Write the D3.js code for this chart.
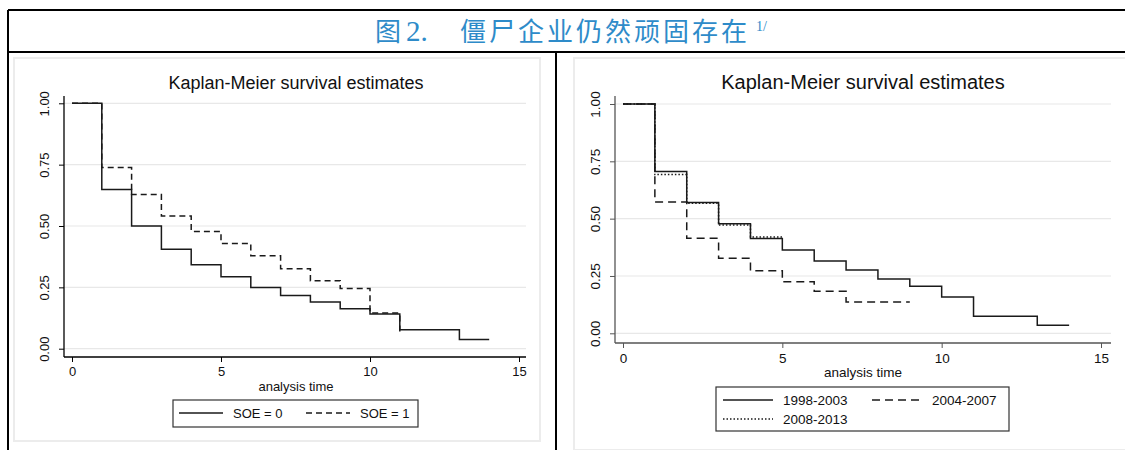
<!DOCTYPE html>
<html lang="zh">
<head>
    <meta charset="UTF-8">
    <title>Zombie firms</title>
    <script src="https://d3js.org/d3.v7.min.js"></script>
    <style>
        body { margin: 0; background: #fff; }
        svg text { font-family: 'Liberation Sans', Arial, sans-serif; fill: #111; }
    </style>
</head>
<body>
<div id="chart"></div>
<script>
    // time points (years) and survival estimates
    const timeLeft = [0, 1, 2, 3, 4, 5, 6, 7, 8, 9, 10, 11, 13, 14];
    const soe0 = [1, 0.649, 0.50, 0.405, 0.342, 0.293, 0.249, 0.217, 0.190, 0.163, 0.141, 0.077, 0.038, 0.038];
    const timeSoe1 = [0, 1, 2, 3, 4, 5, 6, 7, 8, 9, 10, 11];
    const soe1 = [1, 0.738, 0.628, 0.541, 0.478, 0.429, 0.379, 0.326, 0.277, 0.245, 0.145, 0.054];

    const time9803 = [0, 1, 2, 3, 4, 5, 6, 7, 8, 9, 10, 11, 13, 14];
    const p9803 = [1, 0.706, 0.570, 0.478, 0.413, 0.363, 0.315, 0.276, 0.237, 0.205, 0.158, 0.074, 0.035, 0.035];
    const time0407 = [0, 1, 2, 3, 4, 5, 6, 7, 9];
    const p0407 = [1, 0.573, 0.414, 0.327, 0.273, 0.225, 0.183, 0.137, 0.137];
    const time0813 = [0, 1, 2, 3, 4, 5];
    const p0813 = [1, 0.692, 0.567, 0.472, 0.420, 0.420];

    const yTicks = [0, 0.25, 0.5, 0.75, 1];
    const xTicks = [0, 5, 10, 15];

    const svg = d3.select('#chart').append('svg')
        .attr('width', 1125).attr('height', 450);

    // outer frame
    svg.append('line').attr('x1', 8).attr('x2', 1125).attr('y1', 10).attr('y2', 10)
        .attr('stroke', '#000').attr('stroke-width', 2);
    svg.append('line').attr('x1', 8).attr('x2', 1125).attr('y1', 52).attr('y2', 52)
        .attr('stroke', '#000').attr('stroke-width', 2);
    svg.append('line').attr('x1', 8).attr('x2', 8).attr('y1', 10).attr('y2', 450)
        .attr('stroke', '#000').attr('stroke-width', 2);
    svg.append('line').attr('x1', 556).attr('x2', 556).attr('y1', 52).attr('y2', 450)
        .attr('stroke', '#000').attr('stroke-width', 2);

    const title = svg.append('text').attr('x', 375).attr('y', 41)
        .style('font-family', "'Noto Sans CJK SC', sans-serif")
        .style('font-size', '26px').style('fill', '#2e8bc9');
    title.append('tspan').text('图');
    title.append('tspan').attr('x', 406).style('font-family', "'Liberation Serif', serif")
        .style('font-size', '29px').text('2.');
    title.append('tspan').attr('x', 460).style('letter-spacing', '3px').text('僵尸企业仍然顽固存在');
    title.append('tspan').attr('x', 756).attr('dy', -10)
        .style('font-family', "'Liberation Serif', serif").style('font-size', '14px').text('1/');

    function panel(cfg) {
        const g = svg.append('g');
        g.append('rect').attr('x', cfg.frame[0]).attr('y', cfg.frame[1])
            .attr('width', cfg.frame[2]).attr('height', cfg.frame[3])
            .attr('fill', '#fff').attr('stroke', '#ececec').attr('stroke-width', 2);

        const x = d3.scaleLinear().domain([0, 15]).range([cfg.x0, cfg.x1]);
        const y = d3.scaleLinear().domain([0, 1]).range([cfg.y0, cfg.y1]);

        // grid
        g.selectAll('.grid').data(yTicks).enter().append('line')
            .attr('x1', cfg.axL).attr('x2', cfg.axR)
            .attr('y1', d => y(d)).attr('y2', d => y(d))
            .attr('stroke', '#e8e8e8').attr('stroke-width', 1.2);

        // axes
        const yAxis = g.append('g').attr('transform', `translate(${cfg.axL},0)`)
            .call(d3.axisLeft(y).tickValues(yTicks).tickFormat(d3.format('.2f')).tickSize(5).tickSizeOuter(0));
        yAxis.select('.domain').attr('d', `M0,${cfg.axT}V${cfg.axB}`).attr('stroke', cfg.axColor).attr('stroke-width', 1.3);
        yAxis.selectAll('.tick line').attr('stroke', cfg.axColor);
        yAxis.selectAll('.tick text').attr('x', null).attr('dy', null)
            .attr('transform', 'translate(-15,0) rotate(-90)')
            .attr('text-anchor', 'middle')
            .style('font-size', cfg.tickSize).style('font-family', "'Liberation Sans', Arial, sans-serif");

        const xAxis = g.append('g').attr('transform', `translate(0,${cfg.axB})`)
            .call(d3.axisBottom(x).tickValues(xTicks).tickSize(5).tickSizeOuter(0));
        xAxis.select('.domain').attr('d', `M${cfg.axL},0H${cfg.axR}`).attr('stroke', cfg.axColor).attr('stroke-width', 1.3);
        xAxis.selectAll('.tick line').attr('stroke', cfg.axColor);
        xAxis.selectAll('.tick text').attr('y', 10)
            .style('font-size', cfg.tickSize).style('font-family', "'Liberation Sans', Arial, sans-serif");

        g.append('text').attr('x', cfg.midX).attr('y', cfg.axB + 34)
            .attr('text-anchor', 'middle').style('font-size', cfg.tickSize).text('analysis time');
        g.append('text').attr('x', cfg.midX).attr('y', 89)
            .attr('text-anchor', 'middle').style('font-size', cfg.titleSize).text('Kaplan-Meier survival estimates');

        const line = d3.line().curve(d3.curveStepAfter).x(d => x(d[0])).y(d => y(d[1]));
        cfg.series.forEach(s => {
            g.append('path').datum(d3.zip(s.t, s.v))
                .attr('d', line).attr('fill', 'none')
                .attr('stroke', '#1a1a1a').attr('stroke-width', 1.5)
                .attr('stroke-dasharray', s.dash);
        });

        // legend
        const lb = cfg.legend;
        g.append('rect').attr('x', lb.box[0]).attr('y', lb.box[1])
            .attr('width', lb.box[2]).attr('height', lb.box[3])
            .attr('fill', '#fff').attr('stroke', '#333').attr('stroke-width', 1.2);
        lb.items.forEach((it, i) => {
            const s = cfg.series[i];
            g.append('line').attr('x1', it[0]).attr('x2', it[0] + lb.len)
                .attr('y1', it[1]).attr('y2', it[1])
                .attr('stroke', '#1a1a1a').attr('stroke-width', 1.5)
                .attr('stroke-dasharray', s.dash);
            g.append('text').attr('x', it[0] + lb.len + 10).attr('y', it[1] + 5)
                .style('font-size', cfg.tickSize).text(s.name);
        });
    }

    panel({
        frame: [14, 58, 526, 383],
        x0: 72, x1: 519, y0: 348.7, y1: 103.3,
        axL: 64, axR: 526, axT: 96, axB: 357, midX: 296, axColor: '#000',
        tickSize: '13px', titleSize: '18px',
        series: [
            { name: 'SOE = 0', t: timeLeft, v: soe0, dash: null },
            { name: 'SOE = 1', t: timeSoe1, v: soe1, dash: '6,4' }
        ],
        legend: { box: [173, 400, 245, 27], len: 44, items: [[179, 413], [306, 413]] }
    });

    panel({
        frame: [574, 58, 560, 392],
        x0: 623, x1: 1101, y0: 333.3, y1: 104,
        axL: 615, axR: 1111, axT: 96, axB: 343, midX: 863, axColor: '#555',
        tickSize: '13.5px', titleSize: '20px',
        series: [
            { name: '1998-2003', t: time9803, v: p9803, dash: null },
            { name: '2004-2007', t: time0407, v: p0407, dash: '8,5' },
            { name: '2008-2013', t: time0813, v: p0813, dash: '1.5,2' }
        ],
        legend: { box: [716, 387, 293, 44], len: 50, items: [[723, 400], [872, 400], [723, 419]] }
    });
</script>
</body>
</html>
